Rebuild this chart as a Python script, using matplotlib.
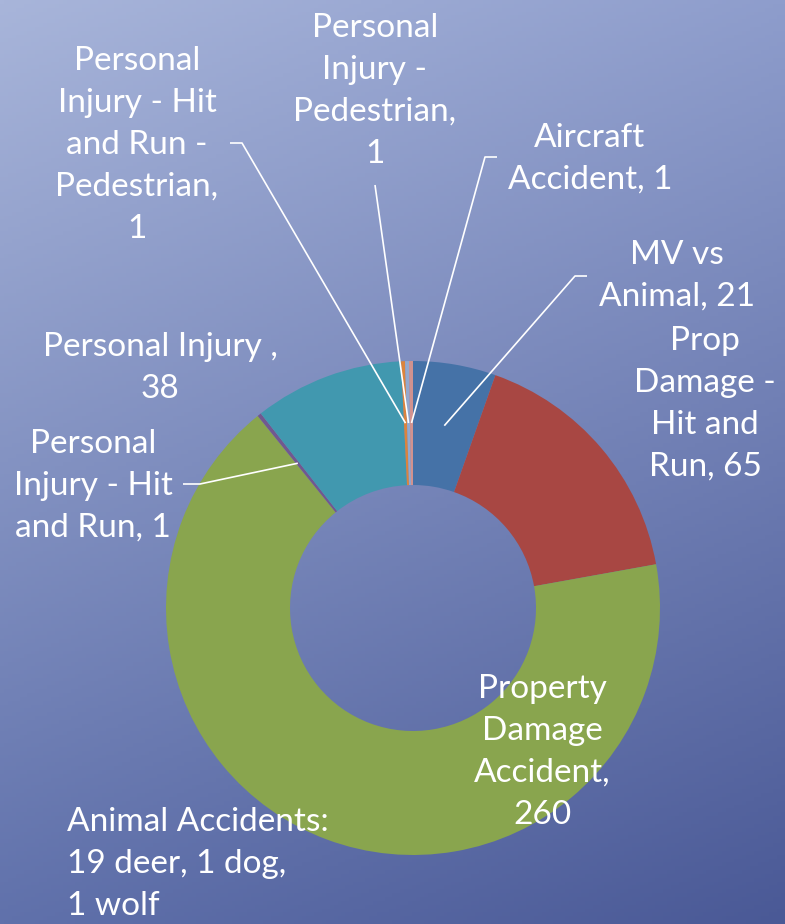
import numpy as np
import matplotlib
matplotlib.use("Agg")
import matplotlib.pyplot as plt

# data, clockwise from 12 o'clock
categories = ["MV vs Animal", "Prop Damage - Hit and Run", "Property Damage Accident",
              "Personal Injury - Hit and Run", "Personal Injury ",
              "Personal Injury - Hit and Run - Pedestrian", "Personal Injury - Pedestrian",
              "Aircraft Accident"]
counts = [21, 65, 260, 1, 38, 1, 1, 1]
colors = ["#4572a7", "#a84743", "#89a54e", "#71588f", "#4198af", "#db843d", "#93a9cf", "#d1928f"]

# label text as shown on the chart
label_texts = ["MV vs\nAnimal, 21", "Prop\nDamage -\nHit and\nRun, 65",
               "Property\nDamage\nAccident,\n260", "Personal\nInjury - Hit\nand Run, 1",
               "Personal Injury ,\n38", "Personal\nInjury - Hit\nand Run -\nPedestrian,\n1",
               "Personal\nInjury -\nPedestrian,\n1", "Aircraft\nAccident, 1"]
note_text = "Animal Accidents:\n19 deer, 1 dog,\n1 wolf"

W, H = 785, 924
fig = plt.figure(figsize=(W / 100, H / 100), dpi=100)
ax = fig.add_axes([0, 0, 1, 1])

# diagonal gradient background
tl = np.array([0xa8, 0xb5, 0xda]) / 255
tr = np.array([0x8e, 0x9d, 0xcc]) / 255
bl = np.array([0x60, 0x71, 0xab]) / 255
br = np.array([0x4a, 0x59, 0x96]) / 255
u = np.linspace(0, 1, 200)[None, :, None]
v = np.linspace(0, 1, 240)[:, None, None]
grad = (1 - v) * ((1 - u) * tl + u * tr) + v * ((1 - u) * bl + u * br)
ax.imshow(grad, extent=(0, W, 0, H), origin="upper", aspect="auto", zorder=0)

cx, cy = 413, H - 608
R, ring = 247, 124
wedges, _ = ax.pie(counts, colors=colors, startangle=90, counterclock=False,
                   radius=R, center=(cx, cy),
                   wedgeprops=dict(width=ring, linewidth=0))
for w in wedges:
    w.set_zorder(2)

font = dict(family=["Lato", "DejaVu Sans"], color="white", fontsize=24,
            ha="center", va="center", linespacing=1.5, zorder=4)

# label centres (pixels, y measured from top) and leader elbows
label_pos = [(677, 276), (705, 404), (542, 752), (93, 486),
             (160, 368), (137, 145), (375, 91), (590, 159)]
leader = {0: [(587, 276), (575, 276)],
          3: [(183, 484), (200, 484)],
          5: [(230, 143), (242, 143)],
          6: [(375, 185)],
          7: [(497, 157), (485, 157)]}

rmid = R - ring / 2
for i, w in enumerate(wedges):
    x, y = label_pos[i]
    ax.text(x, H - y, label_texts[i], **font)
    if i in leader:
        ang = np.deg2rad((w.theta1 + w.theta2) / 2)
        px, py = cx + rmid * np.cos(ang), cy + rmid * np.sin(ang)
        pts = [(a, H - b) for a, b in leader[i]] + [(px, py)]
        xs, ys = zip(*pts)
        ax.plot(xs, ys, color="white", lw=1.2, zorder=3, solid_capstyle="butt")

ax.text(67, H - 864, note_text, **{**font, "ha": "left"})

ax.set_xlim(0, W)
ax.set_ylim(0, H)
ax.set_aspect("auto")
ax.axis("off")
fig.savefig("out.png", dpi=100)
